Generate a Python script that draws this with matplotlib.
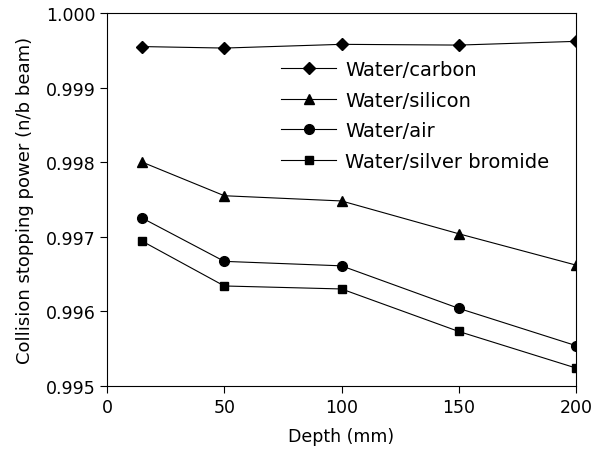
import matplotlib
matplotlib.use("Agg")
import matplotlib.pyplot as plt

# Daten
depth = [15, 50, 100, 150, 200]
water_carbon = [0.99955, 0.99953, 0.99958, 0.99957, 0.99962]
water_silicon = [0.99800, 0.99755, 0.99748, 0.99704, 0.99662]
water_air = [0.99725, 0.99667, 0.99661, 0.99604, 0.99554]
water_agbr = [0.99694, 0.99634, 0.99630, 0.99573, 0.99524]

labels = ["Water/carbon", "Water/silicon", "Water/air", "Water/silver bromide"]
x_ticks = [0, 50, 100, 150, 200]
y_ticks = [0.995, 0.996, 0.997, 0.998, 0.999, 1.000]

plt.rcParams['font.family'] = ['DejaVu Sans']

fig = plt.figure(figsize=(5.95, 4.52), dpi=100)
ax = fig.add_axes([0.18, 0.144, 0.788, 0.825])

series = [water_carbon, water_silicon, water_air, water_agbr]
markers = ["D", "^", "o", "s"]
sizes = [6, 6.5, 7, 6]
for vals, m, ms, lab in zip(series, markers, sizes, labels):
    ax.plot(depth, vals, color="black", linewidth=0.8, marker=m, markersize=ms, label=lab)

ax.set_xlim(0, 200)
ax.set_ylim(0.995, 1.000)
ax.set_xticks(x_ticks)
ax.set_yticks(y_ticks)
ax.set_yticklabels([f"{v:.3f}" for v in y_ticks])
ax.tick_params(direction="out", length=5, width=0.8, labelsize=12.5, colors="black")
for sp in ax.spines.values():
    sp.set_linewidth(0.8)

ax.set_xlabel("Depth (mm)", fontsize=12.5, labelpad=8)
ax.set_ylabel("Collision stopping power (n/b beam)", fontsize=13, labelpad=8)

ax.legend(loc="upper left", bbox_to_anchor=(0.355, 0.895), frameon=False, fontsize=14,
          handlelength=2.8, handletextpad=0.5, labelspacing=0.6, borderaxespad=0)

fig.savefig("out.png", dpi=100)
